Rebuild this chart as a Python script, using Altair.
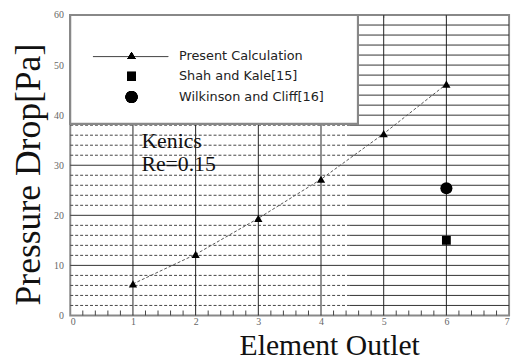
import altair as alt
import pandas as pd

# Data
outlets = [1, 2, 3, 4, 5, 6]
present_calc = [6.3, 12.2, 19.4, 27.2, 36.3, 46.2]
shah_x = [6]
shah_y = [15.0]
wilk_x = [6]
wilk_y = [25.4]
x_ticks = [0, 1, 2, 3, 4, 5, 6, 7]
y_ticks = [0, 10, 20, 30, 40, 50, 60]
minor_y = [2, 4, 6, 8, 12, 14, 16, 18, 22, 24, 26, 28, 32, 34, 36, 38, 42, 44, 46, 48, 52, 54, 56, 58]
major_y = [10, 20, 30, 40, 50]
grid_x = [1, 2, 3, 4, 5, 6]
minor_x = [round(i * 0.2, 1) for i in range(1, 35) if i % 5 != 0]
dash_split = 4.45
legend_labels = ["Present Calculation", "Shah and Kale[15]", "Wilkinson and Cliff[16]"]
annot_lines = ["Kenics", "Re=0.15"]

W, H = 444, 304
SERIF = "Liberation Serif"

xs = alt.Scale(domain=[0, 7], nice=False)
ys = alt.Scale(domain=[0, 60], nice=False)

df = pd.DataFrame({"x": outlets, "y": present_calc})
dshah = pd.DataFrame({"x": shah_x, "y": shah_y})
dwilk = pd.DataFrame({"x": wilk_x, "y": wilk_y})
dminor_l = pd.DataFrame({"y": minor_y, "x0": 0, "x1": dash_split})
dminor_r = pd.DataFrame({"y": minor_y, "x0": dash_split, "x1": 7})
dmajor = pd.DataFrame({"y": major_y})
dgx = pd.DataFrame({"x": grid_x})
dmx = pd.DataFrame({"x": minor_x})

base = alt.Chart(df)

grid_major = alt.Chart(dmajor).mark_rule(color="#333", strokeWidth=1).encode(
    y=alt.Y("y:Q", scale=ys, axis=alt.Axis(
        values=y_ticks, format="d", title="Pressure Drop[Pa]",
        titleX=-42, titleY=161, titleAngle=-90, titleAlign="center", titleBaseline="middle",
        titleFontSize=36,
    )),
)
grid_minor_l = alt.Chart(dminor_l).mark_rule(color="#444", strokeWidth=1, strokeDash=[3, 2]).encode(
    y=alt.Y("y:Q", scale=ys), x=alt.X("x0:Q", scale=xs), x2="x1:Q"
)
grid_minor_r = alt.Chart(dminor_r).mark_rule(color="#333", strokeWidth=1).encode(
    y=alt.Y("y:Q", scale=ys), x=alt.X("x0:Q", scale=xs), x2="x1:Q"
)
grid_v = alt.Chart(dgx).mark_rule(color="#222", strokeWidth=1).encode(
    x=alt.X("x:Q", scale=xs, axis=alt.Axis(
        values=x_ticks, format="d", title="Element Outlet",
        titleX=262, titleY=39, titleBaseline="alphabetic", titleAlign="center",
        titleFontSize=30,
    ))
)
minor_ticks = alt.Chart(dmx).mark_rule(color="#444", strokeWidth=1).encode(
    x=alt.X("x:Q", scale=xs), y=alt.value(H), y2=alt.value(H - 5)
)
top_ticks = alt.Chart(dgx).mark_rule(color="#444", strokeWidth=1).encode(
    x=alt.X("x:Q", scale=xs), y=alt.value(0), y2=alt.value(3)
)

# legend box
leg_box = alt.Chart(df).mark_rect(fill="white", stroke="#888", strokeWidth=2).encode(
    x=alt.value(0), x2=alt.value(291), y=alt.value(0), y2=alt.value(110)
)
leg_line = alt.Chart(df).mark_rule(color="#555", strokeWidth=1).encode(
    x=alt.value(23), x2=alt.value(99), y=alt.value(42)
)
leg_tri = alt.Chart(df).mark_point(shape="triangle-up", filled=True, color="black", size=70, opacity=1).encode(
    x=alt.value(62), y=alt.value(41)
)
leg_sq = alt.Chart(df).mark_point(shape="square", filled=True, color="black", size=80, opacity=1).encode(
    x=alt.value(62), y=alt.value(62)
)
leg_circ = alt.Chart(df).mark_point(shape="circle", filled=True, color="black", size=150, opacity=1).encode(
    x=alt.value(62), y=alt.value(83)
)
leg_df = pd.DataFrame({"label": legend_labels, "py": [42, 62, 83]})
leg_text = alt.Chart(leg_df).mark_text(align="left", baseline="middle", font="DejaVu Sans", fontSize=13, color="#222").encode(
    x=alt.value(110), y=alt.Y("py:Q", scale=None), text="label:N"
)

ann_df = pd.DataFrame({"t": annot_lines, "py": [128, 151]})
ann = alt.Chart(ann_df).mark_text(align="left", baseline="middle", font=SERIF, fontSize=22, color="#111").encode(
    x=alt.value(72), y=alt.Y("py:Q", scale=None), text="t:N"
)

line = base.mark_line(color="#555", strokeWidth=1, strokeDash=[3, 2]).encode(
    x=alt.X("x:Q", scale=xs), y=alt.Y("y:Q", scale=ys)
)
pts = base.mark_point(shape="triangle-up", filled=True, color="black", size=70, opacity=1).encode(
    x=alt.X("x:Q", scale=xs), y=alt.Y("y:Q", scale=ys)
)
shah = alt.Chart(dshah).mark_point(shape="square", filled=True, color="black", size=80, opacity=1).encode(
    x=alt.X("x:Q", scale=xs), y=alt.Y("y:Q", scale=ys)
)
wilk = alt.Chart(dwilk).mark_point(shape="circle", filled=True, color="black", size=150, opacity=1).encode(
    x=alt.X("x:Q", scale=xs), y=alt.Y("y:Q", scale=ys)
)

chart = alt.layer(
    grid_minor_l, grid_minor_r, grid_major, grid_v, minor_ticks, top_ticks,
    leg_box, leg_line, leg_tri, leg_sq, leg_circ, leg_text,
    ann, line, pts, shah, wilk,
).properties(
    width=W, height=H,
    autosize=alt.AutoSizeParams(type="none"),
    padding={"left": 63, "top": 5, "right": 6, "bottom": 46},
    background="white",
).configure_view(
    stroke="#888", strokeWidth=2
).configure_axis(
    grid=False, domain=False, ticks=False,
    labelFont=SERIF, labelFontSize=10, labelColor="#666",
    titleFont=SERIF, titleFontWeight="normal", titleColor="#111",
).configure_axisX(
    labelPadding=1,
).configure_axisY(
    labelPadding=7,
)

chart.save("out.html", embed_options={"renderer": "svg", "actions": False})
